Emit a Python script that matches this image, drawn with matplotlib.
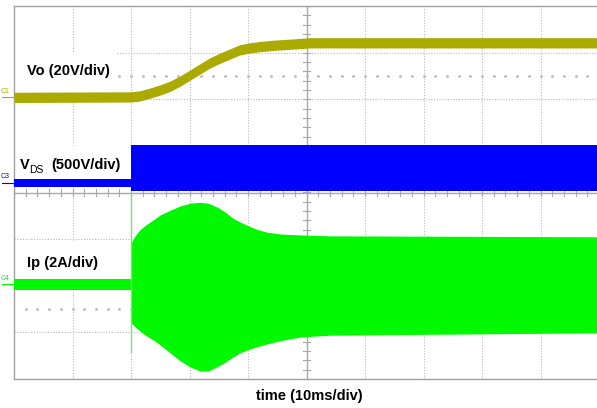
import matplotlib.pyplot as plt
from matplotlib.patches import Rectangle
import numpy as np

# screen units: time in ms (10 ms/div), amplitude in divisions (-4..4)
# Vo trace (olive), centre of the noisy band
t_vo = [0, 20, 21.5, 23.2, 25.0, 26.7, 28.4, 30.1, 31.8, 33.5, 35.2, 36.9, 38.6,
        40.3, 42.1, 44.6, 47.2, 50.6, 100]
vo = [2.04, 2.05, 2.07, 2.13, 2.20, 2.28, 2.39, 2.52, 2.65, 2.78, 2.88, 2.97, 3.06,
      3.10, 3.13, 3.16, 3.18, 3.21, 3.21]
vo_half = 0.11

# VDS trace (blue): idle band before start, switching band after
t_vds_idle = [0, 20]
vds_idle_lo = [0.11, 0.11]
vds_idle_hi = [0.29, 0.29]
t_vds_sw = [20, 100]
vds_sw_lo = [0.03, 0.03]
vds_sw_hi = [1.02, 1.02]

# Ip trace (green): idle band, then switching envelope
t_ip_idle = [0, 20]
ip_idle_lo = [-2.09, -2.09]
ip_idle_hi = [-1.85, -1.85]
t_ip = [20, 20.7, 21.5, 22.7, 23.8, 25.0, 26.7, 28.4, 30.1, 31.8, 33.2, 34.7, 36.1,
        37.4, 38.6, 39.8, 41.5, 43.2, 45.5, 48.9, 54.0, 100]
ip_hi = [-1.08, -0.93, -0.80, -0.68, -0.59, -0.48, -0.38, -0.29, -0.23, -0.21, -0.23,
         -0.31, -0.42, -0.55, -0.63, -0.70, -0.79, -0.85, -0.89, -0.91, -0.93, -0.95]
ip_lo = [-2.80, -2.88, -2.97, -3.08, -3.16, -3.27, -3.44, -3.61, -3.74, -3.83, -3.83,
         -3.74, -3.64, -3.53, -3.44, -3.38, -3.31, -3.25, -3.18, -3.10, -3.06, -3.01]

OLIVE = '#aaaa00'
BLUE = '#0000ff'
GREEN = '#00f800'
GRID = '#b8b8b8'

fig = plt.figure(figsize=(5.97, 4.08), dpi=100)
ax = fig.add_axes([14 / 597, 29 / 408, 585 / 597, 373 / 408])
ax.set_xlim(0, 100)
ax.set_ylim(-4, 4)
ax.set_xticks([])
ax.set_yticks([])
for s in ['left', 'top', 'bottom', 'right']:
    ax.spines[s].set_color('#a0a0a0')
    ax.spines[s].set_linewidth(1.0)

# graticule
for x in range(10, 100, 10):
    if x != 50:
        ax.axvline(x, color=GRID, lw=0.8, ls=(0, (1, 1.5)), zorder=1)
for y in [-3, -2, -1, 1, 2, 3]:
    ax.axhline(y, color=GRID, lw=0.8, ls=(0, (1, 1.5)), zorder=1)
ax.axvline(50, color='#a8a8a8', lw=1.0, zorder=1)
ax.axhline(0, color='#a8a8a8', lw=1.0, zorder=1)
for y in np.arange(-4, 4.01, 0.2):
    ax.plot([49.4, 50.6], [y, y], color='#a8a8a8', lw=0.8, zorder=1)
for x in np.arange(0, 100.1, 2):
    ax.plot([x, x], [-0.07, 0.07], color='#a8a8a8', lw=0.8, zorder=1)
dots = np.arange(2, 100, 2)
for y in [2.5, -2.5]:
    ax.plot(dots, [y] * len(dots), ls='none', marker='s', ms=0.9, color=GRID, zorder=1)

# white label areas
ax.add_patch(Rectangle((0, 2.16), 17.3, 0.83, color='white', zorder=2))
ax.add_patch(Rectangle((0, 0.30), 19.9, 0.70, color='white', zorder=2))
ax.add_patch(Rectangle((0, -1.84), 19.9, 0.80, color='white', zorder=2))

# traces
vo_c = np.array(vo)
ax.fill_between(t_vo, vo_c - vo_half, vo_c + vo_half, color=OLIVE, lw=0, zorder=3)
ax.fill_between(t_vds_idle, vds_idle_lo, vds_idle_hi, color=BLUE, lw=0, zorder=3)
ax.fill_between(t_vds_sw, vds_sw_lo, vds_sw_hi, color=BLUE, lw=0, zorder=3)
ax.fill_between(t_ip_idle, ip_idle_lo, ip_idle_hi, color=GREEN, lw=0, zorder=3)
ax.fill_between(t_ip, ip_lo, ip_hi, color=GREEN, lw=0, zorder=3)
ax.plot([20, 20], [0.0, -3.42], color='#7ee07e', lw=1.0, zorder=3)

# labels
fs = 10.5
ax.text(2.22, 2.52, 'Vo (20V/div)', fontsize=fs, fontweight='bold',
        family='Liberation Sans', va='baseline', zorder=4)
ax.text(1.03, 0.50, 'V', fontsize=fs, fontweight='bold',
        family='Liberation Sans', va='baseline', zorder=4)
ax.text(2.6, 0.42, 'DS', fontsize=7.5, family='Liberation Sans',
        va='baseline', zorder=4)
ax.text(6.3, 0.50, '(500V/div)', fontsize=fs, fontweight='bold',
        family='Liberation Sans', va='baseline', zorder=4)
ax.text(2.22, -1.60, 'Ip (2A/div)', fontsize=fs, fontweight='bold',
        family='Liberation Sans', va='baseline', zorder=4)
fig.text(309 / 597, 1 - 400 / 408, 'time (10ms/div)', fontsize=fs,
         fontweight='bold', family='Liberation Sans', ha='center', va='baseline')

# channel markers on the left edge
for lab, y, c in [('C1', 2.04, OLIVE), ('C3', 0.20, BLUE), ('C4', -1.97, GREEN)]:
    ax.text(-2.3, y + 0.06, lab, fontsize=5, color=c, family='Liberation Sans',
            va='bottom', clip_on=False)
    ax.plot([-2.1, 0], [y, y], color=c, lw=0.8, clip_on=False)

fig.savefig('out.png', dpi=100)
